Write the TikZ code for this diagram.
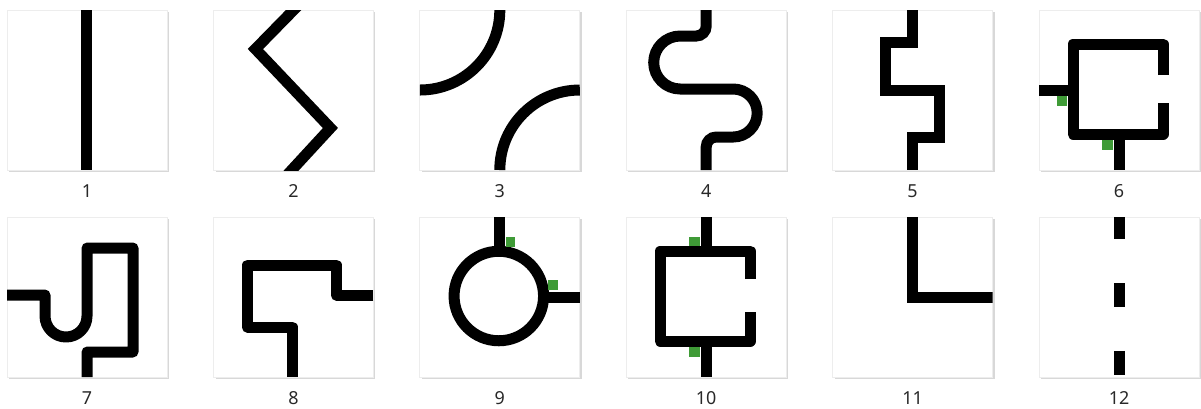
\documentclass[tikz,border=0pt]{standalone}
\usepackage{fontspec}
\setmainfont{Noto Sans}
\usepackage{tikz}
\usetikzlibrary{positioning,shadows}
\definecolor{tabgreen}{RGB}{63,155,55}
\definecolor{numcolor}{RGB}{40,40,40}

\begin{document}
\begin{tikzpicture}[
    x=0.02cm, y=-0.02cm,
    tile/.style={rectangle, draw=black!7, fill=white, minimum width=3.2cm, minimum height=3.2cm, inner sep=0pt, outer sep=0pt, drop shadow={opacity=0.3, shadow xshift=1.2pt, shadow yshift=-1.2pt}},
    num/.style={font=\fontsize{10.2pt}{12pt}\selectfont, text=numcolor, inner sep=0pt},
    pipe/.style={line width=0.22cm, black},
    elbow/.style={pipe, line join=round},
    tab/.style={fill=tabgreen}
]

% Page
\fill[white] (0,0) rectangle (1201,409);
\useasboundingbox (0,0) rectangle (1201,409);

% Tiles, top row
\node[tile] (t1) at (87,90) {};
\node[tile] (t2) at (293.4,90) {};
\node[tile] (t3) at (499.8,90) {};
\node[tile] (t4) at (706.2,90) {};
\node[tile] (t5) at (912.6,90) {};
\node[tile] (t6) at (1119,90) {};

% Tiles, bottom row
\node[tile] (t7) at (87,297) {};
\node[tile] (t8) at (293.4,297) {};
\node[tile] (t9) at (499.8,297) {};
\node[tile] (t10) at (706.2,297) {};
\node[tile] (t11) at (912.6,297) {};
\node[tile] (t12) at (1119,297) {};

% Numbers
\node[num, below=0.28cm of t1] (l1) {1};
\node[num, below=0.28cm of t2] (l2) {2};
\node[num, below=0.28cm of t3] (l3) {3};
\node[num, below=0.28cm of t4] (l4) {4};
\node[num, below=0.28cm of t5] (l5) {5};
\node[num, below=0.28cm of t6] (l6) {6};
\node[num, below=0.28cm of t7] (l7) {7};
\node[num, below=0.28cm of t8] (l8) {8};
\node[num, below=0.28cm of t9] (l9) {9};
\node[num, below=0.28cm of t10] (l10) {10};
\node[num, below=0.28cm of t11] (l11) {11};
\node[num, below=0.28cm of t12] (l12) {12};

% 1: straight
\begin{scope}[shift={(t1.north west)}]
\clip (0,0) rectangle (160,160);
\draw[pipe] (79,0) -- (79,160);
\end{scope}

% 2: zigzag
\begin{scope}[shift={(t2.north west)}]
\clip (0,0) rectangle (160,160);
\draw[pipe] (90,-10) -- (42,39) -- (117,118) -- (70,169);
\end{scope}

% 3: two quarter bends
\begin{scope}[shift={(t3.north west)}]
\clip (0,0) rectangle (160,160);
\draw[pipe] (80,0) arc (0:90:80);
\draw[pipe] (160,80) arc (270:180:80);
\end{scope}

% 4: s-bend
\begin{scope}[shift={(t4.north west)}]
\clip (0,0) rectangle (160,160);
\draw[pipe] (80,0) -- (80,16) arc (0:90:10) -- (54,26) arc (270:90:26.5)
    -- (107,79) arc (270:450:24) -- (90,127) arc (270:180:10) -- (80,160);
\end{scope}

% 5: square steps
\begin{scope}[shift={(t5.north west)}]
\clip (0,0) rectangle (160,160);
\draw[pipe] (80,0) -- (80,32) -- (53,32) -- (53,80) -- (107,80) -- (107,127) -- (80,127) -- (80,160);
\end{scope}

% 6: open box, left and bottom ports
\begin{scope}[shift={(t6.north west)}]
\clip (0,0) rectangle (160,160);
\draw[elbow] (124,65) -- (124,34) -- (34,34) -- (34,124) -- (124,124) -- (124,93);
\draw[pipe] (0,80) -- (34,80);
\draw[pipe] (80,124) -- (80,160);
\fill[tab] (18,86) rectangle (28,96);
\fill[tab] (63,130) rectangle (74,140);
\end{scope}

% 7: u-bend with loop
\begin{scope}[shift={(t7.north west)}]
\clip (0,0) rectangle (160,160);
\draw[elbow] (0,78) -- (38,78) -- (38,99) arc (180:0:21) -- (80,31) -- (126,31)
    -- (126,135) -- (80,135) -- (80,160);
\end{scope}

% 8: hook
\begin{scope}[shift={(t8.north west)}]
\clip (0,0) rectangle (160,160);
\draw[elbow] (160,78) -- (123,78) -- (123,48) -- (34,48) -- (34,110) -- (79,110) -- (79,160);
\end{scope}

% 9: ring
\begin{scope}[shift={(t9.north west)}]
\clip (0,0) rectangle (160,160);
\draw[pipe] (79,79) circle (44.75);
\draw[pipe] (80,0) -- (80,35);
\draw[pipe] (124,80) -- (160,80);
\fill[tab] (86,20) rectangle (95,30);
\fill[tab] (128,63) rectangle (138,73);
\end{scope}

% 10: open box, top and bottom ports
\begin{scope}[shift={(t10.north west)}]
\clip (0,0) rectangle (160,160);
\draw[elbow] (124,62) -- (124,34) -- (34,34) -- (34,124) -- (124,124) -- (124,95);
\draw[pipe] (80,0) -- (80,34);
\draw[pipe] (80,124) -- (80,160);
\fill[tab] (63,20) rectangle (74,29);
\fill[tab] (63,130) rectangle (74,140);
\end{scope}

% 11: corner
\begin{scope}[shift={(t11.north west)}]
\clip (0,0) rectangle (160,160);
\draw[pipe] (80,0) -- (80,80) -- (160,80);
\end{scope}

% 12: dashed
\begin{scope}[shift={(t12.north west)}]
\clip (0,0) rectangle (160,160);
\draw[pipe, dash pattern=on 0.48cm off 0.88cm, dash phase=0.04cm] (80,0) -- (80,160);
\end{scope}

\end{tikzpicture}
\end{document}
